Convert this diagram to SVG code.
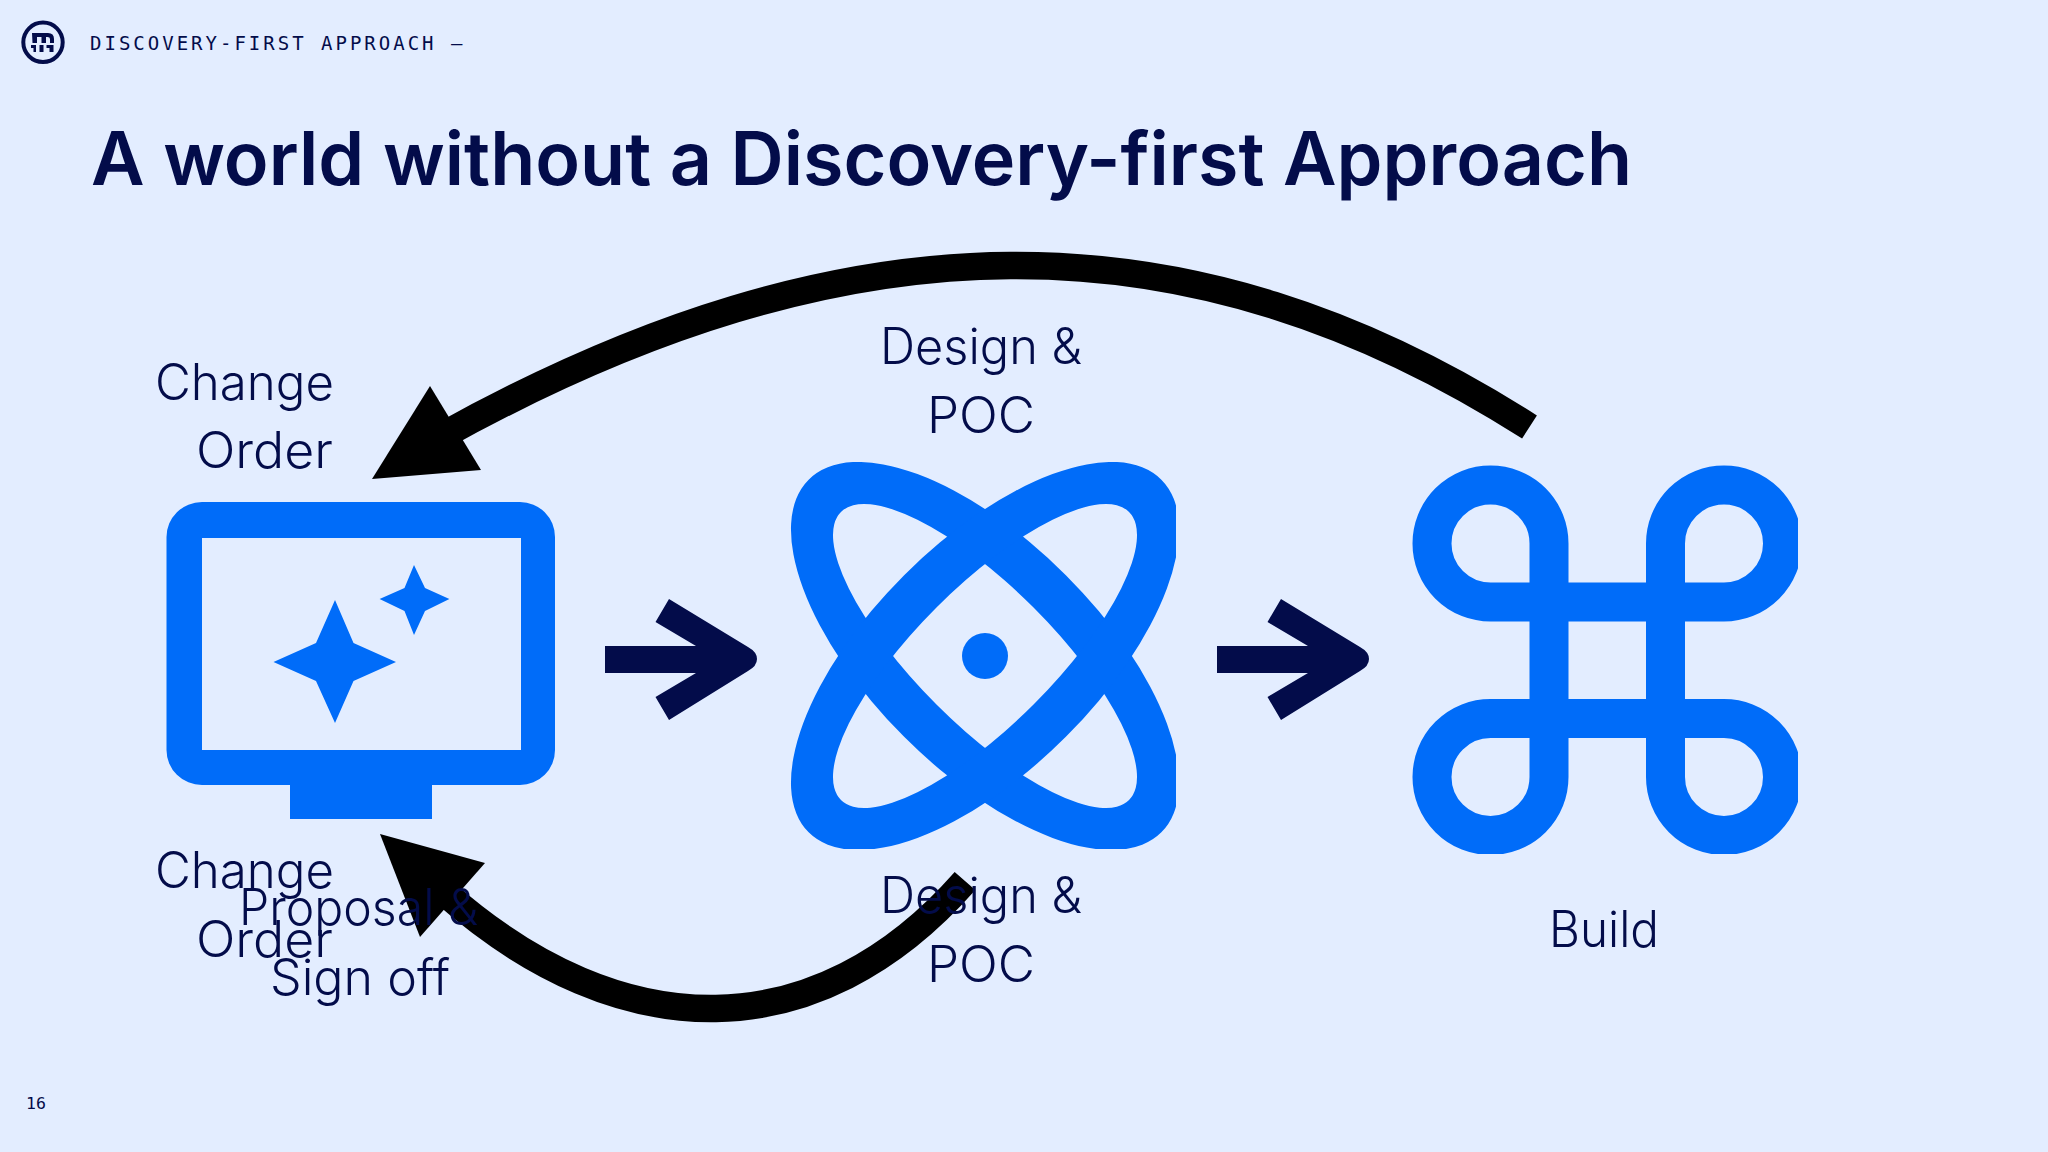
<svg xmlns="http://www.w3.org/2000/svg" width="2048" height="1152" viewBox="0 0 2048 1152">
<defs>
<style>
.lab{font-family:Inter,"Liberation Sans",sans-serif;font-weight:300;font-size:50px;fill:#030C4A}
.mono{font-family:"DejaVu Sans Mono","Liberation Mono",monospace;fill:#030C4A}
.blue{fill:#006CF9}
.arc{fill:none;stroke:#000;stroke-width:27.500}
</style>
<clipPath id="atomClip"><rect x="780" y="462" width="396" height="387"/></clipPath>
<clipPath id="cmdClip"><rect x="1400" y="460" width="398" height="394"/></clipPath>
<path id="navArrow" fill="#030C4A" d="M605 646H696L655.500 622L669 599L748 647Q757 652 757 659Q757 666 748 671L669 720L655.500 697L696 673H605Z"/>
<path id="ring" class="blue" fill-rule="evenodd" d="M735.600 656A249.400 114.300 0 1 1 1234.400 656A249.400 114.300 0 1 1 735.600 656ZM781.300 656A203.700 68.600 0 1 0 1188.700 656A203.700 68.600 0 1 0 781.300 656Z"/>
</defs>
<rect width="2048" height="1152" fill="#E3EDFF"/>
<g id="header">
<circle cx="43" cy="42.300" r="19.700" fill="none" stroke="#030C4A" stroke-width="4"/>
<path fill="#030C4A" d="M32 33H48Q54 33 54 39V43H50V39Q50 37 47.500 37H46V43H41.500V37H37V43H32.500ZM31 45H36V52H33.500V48H31ZM39.500 45H43.500V52H39.500ZM46.500 45H53.500V52H49.500V48H46.500Z"/>
<text class="mono" x="90" y="50" font-size="19" letter-spacing="3">DISCOVERY-FIRST APPROACH –</text>
</g>
<text id="title" x="91" y="185" font-family="Inter,'Liberation Sans',sans-serif" font-weight="600" font-size="74" fill="#030C4A" textLength="1541" lengthAdjust="spacingAndGlyphs">A world without a Discovery-first Approach</text>
<g id="connectors">
<path class="arc" d="M1529.500 427C1190 210 848 210 440 437"/>
<polygon points="372,479 430,386 481,470"/>
<path class="arc" d="M965 881C817 1049 622 1049 445 893"/>
<polygon points="380,834 485,863 420,937"/>
<use href="#navArrow"/>
<use href="#navArrow" x="612"/>
</g>
<g id="node-monitor">
<path class="blue" fill-rule="evenodd" d="M202 502H520A35 35 0 0 1 555 537V750A35 35 0 0 1 520 785H432V819H290V785H202A35.500 35 0 0 1 166.500 750V537A35.500 35 0 0 1 202 502ZM202 538V750H521V538Z"/>
<polygon class="blue" points="335,600 353.500,643 396,662 353.500,681 335,723 316,681 273.500,662 316,643"/>
<polygon class="blue" points="414,565 425,588 449.400,599 425,611 414,635 404.500,611 379.600,599 404.500,588"/>
</g>
<g id="node-atom">
<g clip-path="url(#atomClip)">
<use href="#ring" transform="rotate(45 985 656)"/>
<use href="#ring" transform="rotate(-45 985 656)"/>
</g>
<circle class="blue" cx="985" cy="656" r="23"/>
</g>
<g id="node-command">
<path clip-path="url(#cmdClip)" fill="none" stroke="#006CF9" stroke-width="39" d="M1549 543.500A58.500 58.500 0 1 0 1490.500 602H1724A58.500 58.500 0 1 0 1665.500 543.500V777A58.500 58.500 0 1 0 1724 718.500H1490.500A58.500 58.500 0 1 0 1549 777Z"/>
</g>
<g id="labels">
<text class="lab" x="155" y="400" textLength="179" lengthAdjust="spacingAndGlyphs">Change</text>
<text class="lab" x="196" y="468" textLength="137" lengthAdjust="spacingAndGlyphs">Order</text>
<text class="lab" x="155" y="888" textLength="179" lengthAdjust="spacingAndGlyphs">Change</text>
<text class="lab" x="196" y="957" textLength="137" lengthAdjust="spacingAndGlyphs">Order</text>
<text class="lab" x="880" y="364" textLength="202" lengthAdjust="spacingAndGlyphs">Design &amp;</text>
<text class="lab" x="927" y="433" textLength="108" lengthAdjust="spacingAndGlyphs">POC</text>
<text class="lab" x="880" y="913" textLength="202" lengthAdjust="spacingAndGlyphs">Design &amp;</text>
<text class="lab" x="927" y="982" textLength="108" lengthAdjust="spacingAndGlyphs">POC</text>
<text class="lab" x="239" y="925" textLength="239" lengthAdjust="spacingAndGlyphs">Proposal &amp;</text>
<text class="lab" x="270" y="995" textLength="180" lengthAdjust="spacingAndGlyphs">Sign off</text>
<text class="lab" x="1549" y="947" textLength="110" lengthAdjust="spacingAndGlyphs">Build</text>
</g>
<text id="page" class="mono" x="26" y="1109" font-size="16.500">16</text>
</svg>
